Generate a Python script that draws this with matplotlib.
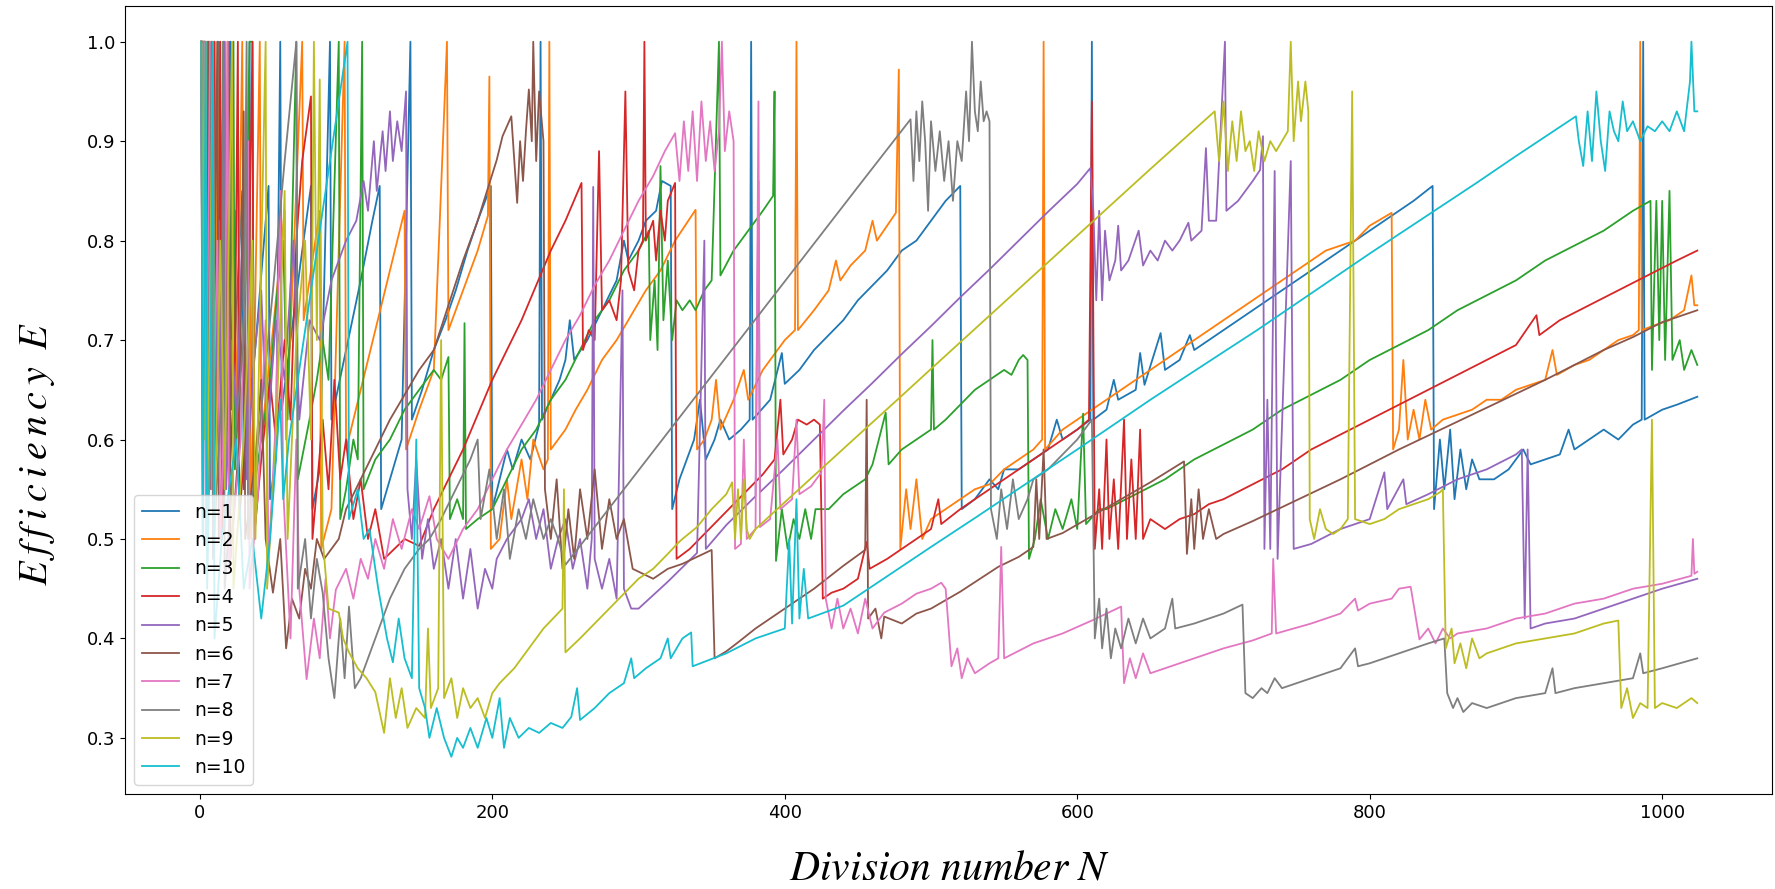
import matplotlib
matplotlib.use("Agg")
import matplotlib.pyplot as plt

plt.rcParams['mathtext.fontset'] = 'stix'

labels = ['n=1', 'n=2', 'n=3', 'n=4', 'n=5', 'n=6', 'n=7', 'n=8', 'n=9', 'n=10']

# n=1
n1_N = [1, 2, 3, 4, 5, 6, 7, 8, 9, 11, 13, 14, 17, 18, 19, 20, 21, 22, 26, 29, 30, 33, 34, 35, 40, 47, 48, 52,
        55, 56, 62, 70, 76, 77, 82, 89, 90, 100, 110, 118, 123, 124, 130, 138, 144, 145, 152, 160, 168, 175, 183,
        190, 199, 200, 205, 210, 214, 220, 226, 232, 233, 234, 240, 246, 250, 253, 256, 265, 275, 285, 290, 293,
        300, 305, 312, 316, 322, 323, 328, 333, 338, 342, 346, 352, 356, 362, 370, 376, 377, 378, 390, 398, 400,
        410, 420, 430, 440, 450, 460, 470, 480, 490, 500, 510, 520, 521, 530, 540, 546, 550, 560, 570, 580, 586,
        590, 600, 609, 610, 611, 620, 625, 628, 640, 643, 646, 657, 660, 670, 677, 680, 690, 700, 710, 720, 730,
        740, 750, 760, 770, 780, 790, 800, 810, 820, 830, 843, 844, 848, 851, 855, 858, 862, 866, 870, 875, 885,
        895, 905, 910, 920, 930, 936, 940, 950, 960, 970, 980, 986, 987, 988, 1000, 1010, 1024]
n1_E = [1.0, 1.0, 1.0, 0.80, 1.0, 0.75, 0.88, 1.0, 0.69, 0.85, 1.0, 0.66, 0.81, 0.86, 0.90, 0.95, 1.0, 0.63, 0.76,
        0.85, 0.55, 0.60, 1.0, 0.64, 0.73, 0.855, 0.54, 0.58, 1.0, 0.63, 0.70, 0.79, 0.855, 0.53, 0.57, 1.0, 0.62,
        0.69, 0.76, 0.82, 0.855, 0.53, 0.56, 0.60, 1.0, 0.62, 0.65, 0.69, 0.72, 0.75, 0.79, 0.82, 0.855, 0.53,
        0.56, 0.59, 0.57, 0.60, 0.58, 0.615, 1.0, 0.62, 0.64, 0.66, 0.68, 0.72, 0.68, 0.70, 0.73, 0.76, 0.80,
        0.78, 0.80, 0.82, 0.83, 0.86, 0.855, 0.53, 0.56, 0.58, 0.60, 0.64, 0.58, 0.60, 0.62, 0.60, 0.61, 0.62,
        1.0, 0.62, 0.64, 0.687, 0.656, 0.67, 0.69, 0.705, 0.72, 0.74, 0.755, 0.77, 0.79, 0.80, 0.82, 0.84, 0.855,
        0.53, 0.54, 0.56, 0.55, 0.57, 0.57, 0.58, 0.59, 0.62, 0.60, 0.61, 0.62, 1.0, 0.62, 0.63, 0.66, 0.64,
        0.65, 0.687, 0.655, 0.707, 0.67, 0.68, 0.705, 0.69, 0.70, 0.71, 0.72, 0.73, 0.74, 0.75, 0.76, 0.77, 0.78,
        0.79, 0.80, 0.81, 0.82, 0.83, 0.84, 0.855, 0.53, 0.60, 0.55, 0.61, 0.54, 0.59, 0.55, 0.58, 0.56, 0.56,
        0.57, 0.59, 0.575, 0.58, 0.585, 0.61, 0.59, 0.60, 0.61, 0.60, 0.615, 0.62, 1.0, 0.62, 0.63, 0.635, 0.643]

# n=2
n2_N = [1, 2, 3, 4, 5, 6, 7, 8, 10, 11, 12, 13, 14, 15, 17, 18, 24, 25, 29, 30, 34, 35, 41, 42, 50, 58, 59, 70,
        71, 82, 83, 90, 99, 100, 110, 120, 130, 140, 141, 150, 160, 169, 170, 180, 190, 197, 198, 199, 205, 210,
        213, 220, 224, 228, 235, 238, 239, 240, 250, 257, 265, 275, 285, 295, 305, 315, 325, 339, 340, 345, 350,
        353, 356, 365, 372, 375, 385, 395, 400, 407, 408, 409, 420, 430, 435, 438, 445, 455, 460, 463, 470, 476,
        478, 479, 483, 486, 490, 494, 500, 510, 520, 530, 540, 550, 560, 570, 576, 577, 578, 590, 600, 610, 620,
        630, 640, 650, 660, 670, 680, 690, 700, 710, 720, 730, 740, 750, 760, 770, 780, 790, 800, 815, 816, 820,
        823, 826, 830, 834, 838, 842, 850, 860, 870, 880, 890, 900, 910, 920, 925, 928, 940, 950, 960, 970, 980,
        984, 985, 986, 995, 1005, 1015, 1020, 1022, 1024]
n2_E = [1.0, 1.0, 1.0, 0.80, 1.0, 0.86, 1.0, 0.67, 0.83, 0.65, 1.0, 0.76, 0.82, 0.88, 1.0, 0.62, 0.83, 0.60, 1.0,
        0.73, 0.83, 0.50, 1.0, 0.60, 0.71, 0.83, 0.60, 1.0, 0.72, 0.83, 0.49, 0.53, 1.0, 0.59, 0.65, 0.71, 0.77,
        0.83, 0.59, 0.63, 0.67, 1.0, 0.71, 0.75, 0.79, 0.825, 0.965, 0.49, 0.50, 0.56, 0.52, 0.58, 0.54, 0.60,
        0.57, 0.58, 1.0, 0.59, 0.61, 0.63, 0.65, 0.68, 0.70, 0.725, 0.75, 0.77, 0.80, 0.831, 0.59, 0.60, 0.62,
        0.66, 0.61, 0.64, 0.67, 0.64, 0.67, 0.69, 0.70, 0.71, 1.0, 0.71, 0.73, 0.75, 0.78, 0.76, 0.775, 0.79,
        0.82, 0.80, 0.815, 0.828, 0.972, 0.49, 0.55, 0.51, 0.56, 0.50, 0.52, 0.53, 0.54, 0.55, 0.555, 0.57, 0.58,
        0.59, 0.60, 1.0, 0.59, 0.61, 0.62, 0.63, 0.64, 0.65, 0.66, 0.67, 0.68, 0.69, 0.70, 0.71, 0.72, 0.73, 0.74,
        0.75, 0.76, 0.77, 0.78, 0.79, 0.795, 0.80, 0.815, 0.828, 0.59, 0.61, 0.68, 0.60, 0.63, 0.60, 0.64, 0.61,
        0.62, 0.625, 0.63, 0.64, 0.64, 0.65, 0.655, 0.66, 0.69, 0.665, 0.675, 0.68, 0.69, 0.70, 0.705, 0.71, 1.0,
        0.71, 0.715, 0.72, 0.73, 0.765, 0.735, 0.735]

# n=3
n3_N = [1, 2, 3, 4, 6, 7, 9, 10, 11, 14, 16, 17, 20, 23, 24, 28, 31, 34, 36, 37, 42, 48, 53, 57, 60, 66, 67, 75,
        80, 84, 88, 95, 96, 100, 105, 108, 111, 112, 120, 130, 140, 150, 160, 165, 170, 171, 176, 180, 181, 182,
        190, 200, 210, 220, 230, 240, 250, 260, 270, 280, 290, 300, 307, 308, 311, 313, 315, 317, 320, 323, 326,
        330, 335, 339, 345, 350, 355, 356, 365, 375, 385, 392, 393, 394, 398, 402, 406, 410, 414, 418, 421, 430,
        440, 455, 460, 469, 471, 480, 490, 500, 501, 502, 510, 520, 530, 540, 550, 555, 560, 563, 566, 567, 571,
        575, 580, 585, 590, 596, 600, 604, 606, 615, 620, 640, 660, 680, 700, 720, 740, 760, 780, 800, 820, 840,
        860, 880, 900, 920, 940, 960, 980, 992, 993, 996, 998, 1000, 1002, 1005, 1007, 1012, 1015, 1020, 1024]
n3_E = [1.0, 0.60, 1.0, 0.70, 1.0, 0.62, 0.78, 1.0, 0.58, 0.70, 1.0, 0.55, 0.66, 1.0, 0.57, 0.68, 0.74, 1.0, 1.0,
        0.55, 0.60, 0.66, 0.75, 0.80, 0.62, 1.0, 0.56, 0.62, 0.66, 0.70, 0.66, 1.0, 0.52, 0.55, 0.60, 0.58, 1.0,
        0.55, 0.58, 0.60, 0.63, 0.65, 0.67, 0.66, 0.683, 0.52, 0.54, 0.52, 0.717, 0.51, 0.52, 0.53, 0.56, 0.59,
        0.61, 0.64, 0.66, 0.69, 0.72, 0.74, 0.77, 0.79, 0.81, 0.70, 0.76, 0.69, 0.875, 0.72, 0.78, 0.70, 0.74,
        0.73, 0.74, 0.73, 0.75, 0.76, 1.0, 0.765, 0.79, 0.81, 0.83, 0.845, 0.95, 0.478, 0.53, 0.49, 0.52, 0.50,
        0.53, 0.50, 0.53, 0.53, 0.545, 0.56, 0.575, 0.627, 0.575, 0.59, 0.60, 0.61, 0.70, 0.61, 0.62, 0.635,
        0.65, 0.66, 0.67, 0.665, 0.68, 0.685, 0.68, 0.48, 0.50, 0.54, 0.50, 0.53, 0.51, 0.54, 0.51, 0.626, 0.515,
        0.53, 0.53, 0.545, 0.56, 0.58, 0.595, 0.61, 0.63, 0.645, 0.66, 0.68, 0.695, 0.71, 0.73, 0.745, 0.76,
        0.78, 0.795, 0.81, 0.83, 0.84, 0.67, 0.84, 0.70, 0.84, 0.68, 0.85, 0.68, 0.70, 0.67, 0.69, 0.675]

# n=4
n4_N = [1, 2, 3, 4, 5, 6, 7, 8, 9, 10, 11, 13, 14, 15, 18, 19, 20, 24, 26, 27, 32, 36, 37, 42, 48, 52, 58, 62, 66,
        70, 76, 77, 84, 88, 92, 96, 100, 105, 110, 115, 120, 126, 140, 150, 160, 170, 180, 190, 200, 210, 220,
        230, 240, 250, 261, 262, 266, 270, 273, 275, 280, 285, 288, 291, 293, 297, 300, 303, 304, 305, 310, 312,
        315, 318, 320, 325, 326, 335, 345, 355, 365, 375, 385, 393, 397, 399, 405, 409, 415, 420, 424, 426, 432,
        440, 450, 456, 458, 470, 480, 490, 500, 505, 507, 520, 530, 540, 550, 560, 570, 580, 590, 600, 608, 610,
        612, 615, 617, 620, 622, 625, 628, 632, 634, 637, 640, 643, 645, 650, 660, 670, 680, 690, 700, 720, 740,
        760, 780, 800, 820, 840, 860, 880, 900, 914, 916, 930, 950, 970, 990, 1010, 1024]
n4_E = [1.0, 0.50, 1.0, 0.80, 0.62, 1.0, 0.70, 0.88, 0.55, 1.0, 0.60, 0.72, 1.0, 0.50, 0.62, 1.0, 0.55, 0.68, 1.0,
        0.52, 0.62, 1.0, 0.50, 0.58, 0.66, 0.60, 0.70, 0.62, 0.80, 0.88, 0.945, 0.50, 0.62, 0.55, 0.66, 0.56,
        0.60, 0.52, 0.56, 0.50, 0.53, 0.48, 0.50, 0.493, 0.53, 0.56, 0.59, 0.625, 0.66, 0.69, 0.72, 0.755, 0.79,
        0.82, 0.858, 0.69, 0.71, 0.70, 0.89, 0.73, 0.74, 0.72, 0.76, 0.95, 0.77, 0.75, 0.79, 0.80, 1.0, 0.80,
        0.82, 0.78, 0.83, 0.80, 0.84, 0.858, 0.48, 0.49, 0.505, 0.52, 0.535, 0.55, 0.565, 0.58, 0.64, 0.585, 0.60,
        0.62, 0.615, 0.62, 0.615, 0.44, 0.446, 0.45, 0.46, 0.497, 0.47, 0.48, 0.49, 0.50, 0.51, 0.54, 0.515, 0.53,
        0.54, 0.55, 0.56, 0.57, 0.58, 0.59, 0.60, 0.61, 0.62, 0.94, 0.49, 0.55, 0.49, 0.60, 0.50, 0.56, 0.49,
        0.62, 0.50, 0.58, 0.50, 0.61, 0.50, 0.52, 0.51, 0.52, 0.525, 0.535, 0.54, 0.555, 0.57, 0.59, 0.605, 0.62,
        0.635, 0.65, 0.665, 0.68, 0.695, 0.725, 0.705, 0.72, 0.735, 0.75, 0.765, 0.78, 0.79]

# n=5
n5_N = [1, 2, 3, 4, 5, 6, 8, 9, 10, 13, 15, 17, 18, 22, 25, 30, 32, 37, 42, 46, 52, 58, 64, 68, 75, 82, 90, 100,
        107, 112, 115, 119, 121, 125, 127, 130, 132, 135, 138, 141, 142, 145, 148, 152, 156, 160, 165, 170, 175,
        180, 185, 190, 195, 200, 203, 210, 220, 225, 230, 235, 240, 245, 250, 255, 260, 265, 268, 269, 270, 275,
        280, 285, 289, 290, 295, 300, 320, 340, 345, 346, 360, 380, 382, 383, 400, 420, 440, 460, 480, 500, 520,
        540, 560, 580, 600, 609, 611, 613, 615, 617, 619, 622, 626, 628, 630, 635, 642, 645, 650, 655, 660, 665,
        670, 676, 678, 685, 688, 690, 695, 701, 702, 710, 715, 720, 725, 727, 728, 730, 732, 735, 737, 746, 748,
        760, 780, 800, 810, 812, 823, 825, 840, 860, 880, 900, 904, 906, 908, 910, 920, 940, 960, 980, 1000, 1024]
n5_E = [1.0, 0.70, 1.0, 0.60, 1.0, 0.55, 0.75, 1.0, 0.60, 0.82, 0.58, 1.0, 0.55, 0.70, 0.62, 0.85, 0.56, 0.68,
        0.75, 0.60, 0.72, 0.66, 0.80, 0.62, 0.72, 0.70, 0.76, 0.80, 0.82, 0.86, 0.83, 0.90, 0.85, 0.91, 0.87,
        0.93, 0.88, 0.92, 0.89, 0.95, 0.55, 0.50, 0.58, 0.48, 0.52, 0.47, 0.50, 0.45, 0.50, 0.44, 0.49, 0.43,
        0.47, 0.45, 0.48, 0.50, 0.52, 0.54, 0.50, 0.53, 0.47, 0.50, 0.52, 0.47, 0.50, 0.45, 0.50, 0.854, 0.48,
        0.45, 0.48, 0.44, 0.75, 0.45, 0.43, 0.43, 0.457, 0.486, 0.80, 0.49, 0.514, 0.543, 0.86, 0.547, 0.571,
        0.60, 0.629, 0.657, 0.686, 0.714, 0.743, 0.771, 0.80, 0.829, 0.857, 0.873, 0.83, 0.74, 0.83, 0.74, 0.81,
        0.76, 0.78, 0.815, 0.77, 0.78, 0.81, 0.775, 0.79, 0.78, 0.80, 0.79, 0.80, 0.818, 0.80, 0.81, 0.893, 0.82,
        0.82, 1.0, 0.83, 0.84, 0.85, 0.86, 0.871, 0.905, 0.49, 0.64, 0.49, 0.87, 0.48, 0.88, 0.49, 0.495, 0.51,
        0.52, 0.567, 0.53, 0.56, 0.535, 0.545, 0.56, 0.57, 0.585, 0.59, 0.42, 0.59, 0.41, 0.415, 0.42, 0.43, 0.44,
        0.45, 0.46]

# n=6
n6_N = [1, 2, 3, 4, 6, 7, 10, 12, 13, 18, 20, 21, 27, 30, 31, 38, 42, 45, 50, 55, 59, 63, 68, 72, 76, 80, 85, 95,
        100, 110, 120, 130, 140, 150, 160, 170, 180, 190, 203, 207, 213, 217, 219, 221, 223, 225, 227, 228, 230,
        232, 235, 236, 240, 244, 248, 252, 256, 260, 265, 270, 275, 280, 285, 290, 296, 310, 320, 330, 340, 350,
        352, 360, 368, 380, 400, 420, 440, 455, 456, 457, 462, 466, 468, 480, 490, 500, 520, 546, 560, 570, 572,
        574, 577, 579, 590, 610, 630, 650, 673, 675, 678, 680, 683, 686, 690, 695, 700, 720, 740, 760, 780, 800,
        820, 840, 860, 880, 900, 920, 940, 960, 980, 1000, 1024]
n6_E = [1.0, 0.80, 1.0, 0.60, 1.0, 0.55, 0.75, 1.0, 0.50, 0.65, 1.0, 0.48, 0.60, 0.93, 0.50, 0.58, 0.66, 0.50,
        0.446, 0.50, 0.39, 0.44, 0.42, 0.47, 0.45, 0.50, 0.48, 0.50, 0.53, 0.56, 0.59, 0.62, 0.645, 0.67, 0.69,
        0.735, 0.78, 0.82, 0.881, 0.905, 0.925, 0.838, 0.90, 0.86, 0.91, 0.952, 0.90, 1.0, 0.88, 0.95, 0.90, 0.55,
        0.50, 0.56, 0.47, 0.53, 0.48, 0.55, 0.50, 0.57, 0.49, 0.54, 0.50, 0.52, 0.47, 0.46, 0.47, 0.475, 0.482,
        0.489, 0.38, 0.387, 0.396, 0.41, 0.43, 0.45, 0.473, 0.489, 0.64, 0.42, 0.43, 0.40, 0.422, 0.415, 0.425,
        0.43, 0.447, 0.472, 0.482, 0.492, 0.56, 0.50, 0.59, 0.50, 0.506, 0.523, 0.54, 0.557, 0.578, 0.485, 0.54,
        0.49, 0.55, 0.50, 0.53, 0.50, 0.505, 0.518, 0.532, 0.546, 0.56, 0.575, 0.59, 0.604, 0.618, 0.632, 0.646,
        0.66, 0.675, 0.69, 0.703, 0.718, 0.73]

# n=7
n7_N = [1, 2, 3, 4, 7, 8, 12, 14, 17, 19, 20, 28, 33, 34, 40, 45, 47, 52, 55, 57, 62, 66, 68, 73, 78, 82, 86, 89,
        93, 100, 105, 110, 115, 120, 126, 132, 138, 145, 150, 157, 162, 170, 180, 190, 200, 210, 220, 230, 240,
        250, 260, 270, 280, 290, 300, 310, 318, 325, 328, 331, 334, 337, 340, 343, 346, 349, 352, 355, 357, 359,
        362, 365, 366, 370, 372, 374, 380, 382, 383, 390, 395, 397, 405, 408, 410, 418, 425, 427, 428, 432, 436,
        440, 445, 450, 455, 460, 468, 480, 490, 500, 507, 510, 514, 518, 521, 525, 530, 540, 546, 548, 550, 570,
        590, 610, 630, 632, 636, 640, 645, 650, 660, 680, 700, 720, 733, 734, 736, 760, 780, 790, 792, 800, 815,
        820, 828, 834, 840, 845, 850, 855, 860, 880, 900, 920, 940, 960, 980, 1000, 1020, 1021, 1022, 1024]
n7_E = [1.0, 0.60, 1.0, 0.50, 1.0, 0.55, 0.80, 0.50, 0.65, 1.0, 0.47, 0.60, 0.90, 0.45, 0.55, 0.72, 0.48, 0.62,
        0.85, 0.55, 0.40, 0.60, 0.45, 0.359, 0.42, 0.38, 0.46, 0.40, 0.449, 0.47, 0.44, 0.48, 0.46, 0.50, 0.47,
        0.52, 0.49, 0.53, 0.51, 0.543, 0.50, 0.48, 0.51, 0.53, 0.56, 0.59, 0.615, 0.64, 0.67, 0.70, 0.725, 0.755,
        0.78, 0.81, 0.84, 0.865, 0.89, 0.908, 0.86, 0.92, 0.87, 0.93, 0.86, 0.94, 0.88, 0.92, 0.87, 0.91, 1.0,
        0.89, 0.93, 0.90, 0.49, 0.495, 0.60, 0.50, 0.51, 0.94, 0.512, 0.52, 0.60, 0.53, 0.54, 0.62, 0.545, 0.553,
        0.567, 0.64, 0.44, 0.41, 0.44, 0.41, 0.43, 0.405, 0.44, 0.41, 0.426, 0.435, 0.445, 0.45, 0.456, 0.45,
        0.372, 0.39, 0.36, 0.38, 0.365, 0.375, 0.38, 0.492, 0.38, 0.395, 0.405, 0.418, 0.432, 0.355, 0.38, 0.36,
        0.385, 0.365, 0.37, 0.38, 0.39, 0.398, 0.405, 0.48, 0.405, 0.415, 0.425, 0.44, 0.428, 0.435, 0.44, 0.45,
        0.452, 0.399, 0.41, 0.395, 0.41, 0.40, 0.405, 0.41, 0.42, 0.425, 0.435, 0.44, 0.45, 0.455, 0.463, 0.50,
        0.465, 0.467]

# n=8
n8_N = [1, 2, 4, 5, 8, 9, 15, 16, 17, 24, 30, 32, 33, 40, 50, 58, 66, 67, 72, 76, 80, 84, 88, 92, 96, 99, 102,
        106, 110, 115, 120, 125, 130, 140, 150, 157, 165, 175, 185, 190, 192, 198, 203, 208, 212, 218, 223, 228,
        235, 240, 245, 250, 300, 341, 400, 450, 486, 488, 490, 492, 494, 496, 498, 500, 503, 506, 509, 512, 515,
        518, 521, 524, 526, 528, 530, 532, 534, 536, 538, 540, 541, 545, 548, 552, 556, 560, 566, 570, 580, 590,
        600, 610, 612, 615, 617, 620, 623, 626, 630, 635, 640, 645, 650, 660, 665, 667, 680, 700, 713, 715, 720,
        723, 726, 730, 735, 740, 750, 760, 780, 790, 792, 800, 820, 840, 851, 853, 857, 860, 864, 870, 880, 900,
        920, 925, 927, 940, 960, 980, 985, 987, 1000, 1024]
n8_E = [1.0, 0.55, 1.0, 0.50, 1.0, 0.48, 0.65, 1.0, 0.45, 0.60, 0.70, 1.0, 0.50, 0.60, 0.75, 0.88, 1.0, 0.45,
        0.50, 0.42, 0.48, 0.446, 0.38, 0.34, 0.42, 0.36, 0.432, 0.35, 0.36, 0.38, 0.40, 0.42, 0.44, 0.47, 0.49,
        0.50, 0.52, 0.55, 0.58, 0.60, 0.52, 0.57, 0.50, 0.55, 0.48, 0.53, 0.50, 0.54, 0.50, 0.52, 0.50, 0.474,
        0.569, 0.647, 0.759, 0.854, 0.922, 0.86, 0.93, 0.88, 0.94, 0.90, 0.83, 0.92, 0.87, 0.91, 0.86, 0.90,
        0.84, 0.90, 0.88, 0.95, 0.90, 1.0, 0.93, 0.91, 0.96, 0.92, 0.93, 0.92, 0.53, 0.50, 0.55, 0.51, 0.56, 0.52,
        0.54, 0.56, 0.57, 0.585, 0.60, 0.62, 0.40, 0.44, 0.39, 0.43, 0.38, 0.41, 0.39, 0.42, 0.395, 0.42, 0.40,
        0.41, 0.44, 0.41, 0.415, 0.425, 0.434, 0.345, 0.34, 0.345, 0.35, 0.345, 0.36, 0.35, 0.355, 0.36, 0.37,
        0.39, 0.372, 0.375, 0.385, 0.395, 0.40, 0.345, 0.33, 0.34, 0.326, 0.335, 0.33, 0.34, 0.345, 0.37, 0.345,
        0.35, 0.355, 0.36, 0.385, 0.365, 0.37, 0.38]

# n=9
n9_N = [1, 3, 4, 5, 9, 10, 14, 17, 22, 23, 30, 36, 38, 45, 46, 52, 58, 60, 66, 72, 76, 78, 80, 82, 84, 88, 95, 98,
        102, 108, 114, 120, 126, 130, 134, 138, 142, 148, 154, 156, 158, 163, 165, 167, 172, 176, 180, 185, 190,
        195, 200, 205, 215, 225, 235, 248, 249, 250, 260, 270, 280, 290, 300, 310, 320, 327, 330, 340, 350, 360,
        364, 366, 368, 370, 372, 374, 376, 380, 400, 450, 477, 500, 550, 600, 650, 694, 697, 700, 703, 706, 709,
        712, 715, 718, 721, 724, 728, 732, 736, 740, 744, 746, 748, 751, 753, 756, 758, 759, 762, 766, 770, 775,
        780, 785, 788, 790, 800, 810, 820, 830, 840, 848, 850, 852, 856, 858, 862, 866, 870, 875, 880, 900, 920,
        940, 960, 970, 972, 976, 980, 985, 990, 993, 995, 1000, 1010, 1020, 1024]
n9_E = [1.0, 0.60, 1.0, 0.50, 1.0, 0.50, 0.80, 0.55, 1.0, 0.45, 0.60, 0.80, 0.50, 1.0, 0.45, 0.60, 0.85, 0.50,
        0.70, 0.80, 0.60, 1.0, 0.70, 0.962, 0.50, 0.43, 0.426, 0.40, 0.386, 0.37, 0.36, 0.346, 0.305, 0.36, 0.32,
        0.35, 0.31, 0.33, 0.32, 0.41, 0.33, 0.35, 0.70, 0.34, 0.36, 0.32, 0.35, 0.33, 0.34, 0.32, 0.345, 0.355,
        0.37, 0.39, 0.41, 0.43, 0.55, 0.386, 0.40, 0.415, 0.43, 0.445, 0.46, 0.47, 0.485, 0.496, 0.50, 0.512,
        0.53, 0.545, 0.557, 0.50, 0.55, 0.50, 0.56, 0.51, 0.50, 0.51, 0.537, 0.604, 0.64, 0.671, 0.738, 0.805,
        0.872, 0.93, 0.88, 0.94, 0.87, 0.92, 0.88, 0.93, 0.89, 0.90, 0.87, 0.91, 0.88, 0.90, 0.89, 0.90, 0.91,
        1.0, 0.90, 0.96, 0.92, 0.96, 0.93, 0.52, 0.50, 0.53, 0.51, 0.505, 0.51, 0.52, 0.95, 0.52, 0.515, 0.52,
        0.53, 0.535, 0.54, 0.547, 0.55, 0.39, 0.41, 0.375, 0.395, 0.37, 0.40, 0.38, 0.385, 0.395, 0.40, 0.405,
        0.415, 0.418, 0.33, 0.35, 0.32, 0.335, 0.33, 0.62, 0.33, 0.335, 0.33, 0.34, 0.335]

# n=10
n10_N = [1, 2, 3, 4, 5, 7, 9, 10, 15, 20, 25, 30, 36, 42, 48, 55, 57, 61, 70, 80, 90, 101, 102, 108, 112, 116,
         122, 128, 132, 136, 140, 145, 148, 150, 154, 157, 162, 167, 172, 176, 180, 185, 190, 196, 200, 205, 208,
         212, 218, 225, 232, 240, 248, 254, 258, 260, 270, 280, 290, 295, 297, 305, 315, 320, 322, 330, 336, 337,
         360, 380, 400, 403, 405, 408, 410, 413, 416, 440, 500, 532, 600, 650, 700, 723, 800, 873, 900, 941, 943,
         946, 949, 952, 955, 958, 961, 964, 967, 970, 973, 976, 980, 985, 990, 995, 1000, 1005, 1010, 1015, 1019,
         1020, 1022, 1024]
n10_E = [1.0, 0.50, 0.70, 1.0, 0.45, 0.60, 1.0, 0.40, 0.50, 0.55, 0.60, 0.45, 0.50, 0.42, 0.50, 0.64, 0.54, 0.60,
         0.69, 0.79, 0.89, 1.0, 0.52, 0.55, 0.50, 0.51, 0.45, 0.40, 0.376, 0.42, 0.38, 0.36, 0.60, 0.35, 0.33,
         0.30, 0.33, 0.30, 0.281, 0.30, 0.29, 0.31, 0.29, 0.32, 0.30, 0.34, 0.29, 0.32, 0.30, 0.31, 0.305, 0.315,
         0.31, 0.321, 0.35, 0.318, 0.33, 0.345, 0.355, 0.38, 0.36, 0.37, 0.38, 0.40, 0.38, 0.40, 0.406, 0.372,
         0.385, 0.40, 0.41, 0.50, 0.415, 0.54, 0.42, 0.47, 0.42, 0.433, 0.492, 0.523, 0.59, 0.64, 0.688, 0.71,
         0.787, 0.858, 0.885, 0.925, 0.90, 0.875, 0.93, 0.88, 0.95, 0.90, 0.87, 0.93, 0.91, 0.90, 0.94, 0.91,
         0.92, 0.90, 0.915, 0.91, 0.92, 0.91, 0.93, 0.91, 0.96, 1.0, 0.93, 0.93]

series_N = [n1_N, n2_N, n3_N, n4_N, n5_N, n6_N, n7_N, n8_N, n9_N, n10_N]
series_E = [n1_E, n2_E, n3_E, n4_E, n5_E, n6_E, n7_E, n8_E, n9_E, n10_E]

fig = plt.figure(figsize=(17.75, 8.89), dpi=100)
ax = fig.add_axes([0.0704, 0.107, 0.928, 0.886])

for xs, ys, lab in zip(series_N, series_E, labels):
    ax.plot(xs, ys, lw=1.3, label=lab)

ax.set_xlim(-51.2, 1075.2)
ax.set_ylim(0.2437, 1.0357)
ax.set_xticks([0, 200, 400, 600, 800, 1000])
ax.set_yticks([0.3, 0.4, 0.5, 0.6, 0.7, 0.8, 0.9, 1.0])
ax.tick_params(labelsize=13)

ax.legend(loc='lower left', fontsize=13.5)

# axis titles drawn as math italic, spaced out like the original equation-editor text
fig.text(0.021, 0.49, r'$E\:f\:f\:i\:c\:i\:e\:n\:c\:y\;\ E$', rotation=90, fontsize=29,
         ha='center', va='center')
fig.text(0.535, 0.024, r'$Division\ number\ N$', fontsize=30, ha='center', va='center')

fig.savefig('out.png', dpi=100)
